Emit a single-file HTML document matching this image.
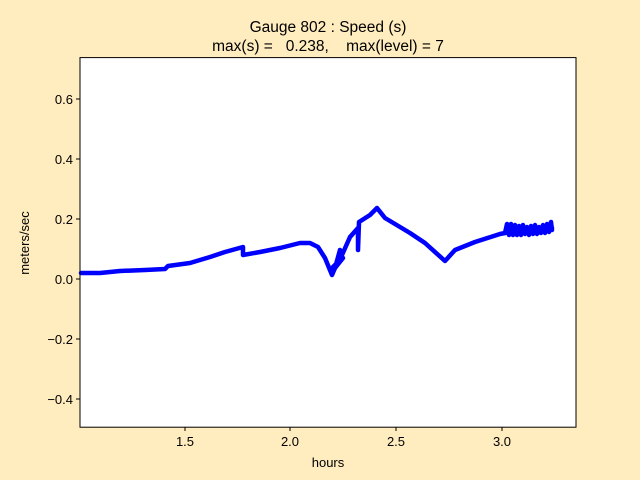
<!DOCTYPE html>
<html><head><style>
body{margin:0;background:#ffedbf;}
svg{display:block;font-family:"Liberation Sans","DejaVu Sans",sans-serif;}
</style></head><body>
<svg width="640" height="480" viewBox="0 0 640 480">
<rect width="640" height="480" fill="#ffedbf"/>
<rect x="80" y="57.6" width="496" height="369.6" fill="#fff"/>
<g stroke="#0000ff" stroke-width="4.5" fill="none" stroke-linejoin="round" stroke-linecap="round">
<polyline points="81,273 100,273 120,271 145,270 165,269 168,266 190,263 210,257 225,252 243,247 243,255 260,252 280,248 300,243 310,243 318,247 325,258 332,275 335,268 342,255 350,237 358,228 358,250 359,222 370,215 377,208 385,218 395,224 410,233 425,243 445,261 455,250 475,242 500,234 515,231 530,231 552,228"/>
<polyline points="330,270 338,262 340,250 335,268 343,258"/>
<polyline points="505,233 507,224 509,235 511,224 513,235 515,225 517,235 519,226 521,235 523,225 525,234 527,227 529,235 531,226 533,234 535,225 537,234 539,227 541,233 543,225 545,233 547,224 549,232 551,222 552,230"/>
</g>
<rect x="80" y="57.6" width="496" height="369.6" fill="none" stroke="#000" stroke-width="1"/>
<g stroke="#000" stroke-width="1">
<line x1="185" y1="427" x2="185" y2="431"/><line x1="290" y1="427" x2="290" y2="431"/>
<line x1="396" y1="427" x2="396" y2="431"/><line x1="502" y1="427" x2="502" y2="431"/>
<line x1="76" y1="99" x2="80" y2="99"/><line x1="76" y1="159" x2="80" y2="159"/>
<line x1="76" y1="219" x2="80" y2="219"/><line x1="76" y1="279" x2="80" y2="279"/>
<line x1="76" y1="339" x2="80" y2="339"/><line x1="76" y1="399" x2="80" y2="399"/>
</g>
<g font-size="13" fill="#000" text-anchor="middle">
<text x="185" y="446">1.5</text><text x="290" y="446">2.0</text>
<text x="396" y="446">2.5</text><text x="502" y="446">3.0</text>
<text x="328" y="467">hours</text>
</g>
<g font-size="13" fill="#000" text-anchor="end">
<text x="73" y="104">0.6</text><text x="73" y="164">0.4</text>
<text x="73" y="224">0.2</text><text x="73" y="284">0.0</text>
<text x="73" y="344">−0.2</text><text x="73" y="404">−0.4</text>
</g>
<text x="0" y="0" font-size="13" text-anchor="middle" transform="translate(29,243) rotate(-90)">meters/sec</text>
<g font-size="15.5" text-anchor="middle">
<text x="328" y="32">Gauge 802 : Speed (s)</text>
<text x="328" y="51" xml:space="preserve">max(s) =   0.238,    max(level) = 7</text>
</g>
</svg>
</body></html>
